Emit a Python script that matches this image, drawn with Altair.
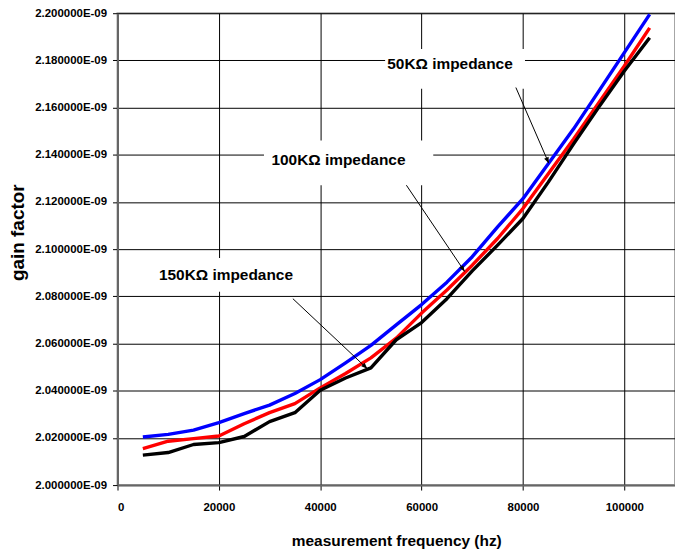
import math
import altair as alt
import pandas as pd

# ---------------- data ----------------
freq_hz = [5000, 10000, 15000, 20000, 25000, 30000, 35000, 40000, 45000, 50000,
           55000, 60000, 65000, 70000, 75000, 80000, 85000, 90000, 95000, 100000, 105000]

# gain factor, in units of 1E-09
gain_50k = [2.0204, 2.0215, 2.0233, 2.0265, 2.0303, 2.0339, 2.0388, 2.0447, 2.0518, 2.0592,
            2.0679, 2.0765, 2.0860, 2.0968, 2.1094, 2.1214, 2.1362, 2.1510, 2.1671, 2.1833, 2.1995]
gain_100k = [2.0155, 2.0186, 2.0197, 2.0208, 2.0260, 2.0307, 2.0345, 2.0412, 2.0473, 2.0539,
             2.0623, 2.0729, 2.0827, 2.0932, 2.1045, 2.1172, 2.1320, 2.1467, 2.1622, 2.1776, 2.1938]
gain_150k = [2.0127, 2.0138, 2.0172, 2.0180, 2.0206, 2.0269, 2.0307, 2.0402, 2.0454, 2.0497,
             2.0616, 2.0689, 2.0790, 2.0908, 2.1017, 2.1130, 2.1284, 2.1446, 2.1603, 2.1755, 2.1896]

series_names = ["50KΩ impedance", "100KΩ impedance", "150KΩ impedance"]
series_colors = ["#0000FF", "#FF0000", "#000000"]

x_ticks = [0, 20000, 40000, 60000, 80000, 100000]
y_ticks_e9 = [2.00, 2.02, 2.04, 2.06, 2.08, 2.10, 2.12, 2.14, 2.16, 2.18, 2.20]

# annotations (data coordinates; y in units of 1E-09)
ann_text_x = [65600, 43600, 21400]
ann_text_y = [2.1786, 2.1376, 2.0891]
box_x1 = [52800, 28900, 6300]
box_x2 = [80400, 62300, 35800]
box_y1 = [2.1848, 2.1461, 2.0963]
box_y2 = [2.1680, 2.1271, 2.0819]
arrow_x1 = [78600, 57000, 34600]
arrow_x2 = [85100, 68500, 49300]
arrow_y1 = [2.1685, 2.1271, 2.0790]
arrow_y2 = [2.1364, 2.0905, 2.0493]

E9 = 1e-9
W, H = 560, 474
X_DOM = [0, 110000]
Y_DOM = [2.0 * E9, 2.2 * E9]

FONT = "Liberation Sans, Arial, sans-serif"

# ---------------- tables ----------------
rows = []
for name, vals in zip(series_names, [gain_50k, gain_100k, gain_150k]):
    for f, v in zip(freq_hz, vals):
        rows.append({"freq": f, "gain": v * E9, "series": name})
df = pd.DataFrame(rows)

px_per_x = W / (X_DOM[1] - X_DOM[0])
px_per_y = H / (Y_DOM[1] - Y_DOM[0])
ann_rows = []
for i, lab in enumerate(series_names):
    dx = (arrow_x2[i] - arrow_x1[i]) * px_per_x
    dy = -(arrow_y2[i] - arrow_y1[i]) * E9 * px_per_y
    ang = math.degrees(math.atan2(dx, -dy)) % 360
    ann_rows.append({
        "label": lab,
        "tx": ann_text_x[i], "ty": ann_text_y[i] * E9,
        "bx1": box_x1[i], "bx2": box_x2[i],
        "by1": box_y1[i] * E9, "by2": box_y2[i] * E9,
        "ax1": arrow_x1[i], "ax2": arrow_x2[i],
        "ay1": arrow_y1[i] * E9, "ay2": arrow_y2[i] * E9,
        "angle": ang,
    })
ann = pd.DataFrame(ann_rows)

# ---------------- scales / axes ----------------
xs = alt.Scale(domain=X_DOM, nice=False, zero=False)
ys = alt.Scale(domain=Y_DOM, nice=False, zero=False)

x_axis = alt.Axis(
    values=x_ticks, format="d", title="measurement frequency (hz)",
    labelPadding=12, titlePadding=20,
    titleFont=FONT, titleFontSize=15.5, titleFontWeight="bold",
)
y_axis = alt.Axis(
    values=[v * E9 for v in y_ticks_e9],
    labelExpr="format(datum.value * 1e9, '.6f') + 'E-09'",
    title="gain factor", labelPadding=6,
    titleFont=FONT, titleFontSize=19, titleFontWeight="bold",
    titleAngle=270, titleAlign="center", titleBaseline="middle",
    titleX=-100, titleY=220,
)


def xq(field):
    return alt.X(f"{field}:Q", scale=xs, axis=x_axis)


def yq(field):
    return alt.Y(f"{field}:Q", scale=ys, axis=y_axis)


boxes = alt.Chart(ann).mark_rect(color="white").encode(
    x=xq("bx1"), x2="bx2", y=yq("by1"), y2="by2"
)

lines = []
for name, color in zip(series_names, series_colors):
    lines.append(
        alt.Chart(df).transform_filter(alt.datum.series == name)
        .mark_line(color=color, strokeWidth=3.4, strokeJoin="round")
        .encode(x=xq("freq"), y=yq("gain"), order="freq:Q")
    )

arrows = alt.Chart(ann).mark_rule(color="black", strokeWidth=1).encode(
    x=xq("ax1"), x2="ax2", y=yq("ay1"), y2="ay2"
)

heads = alt.Chart(ann).mark_point(
    shape="M0,0 L-0.4,1 L0.4,1 Z", filled=True, color="black", size=150, opacity=1
).encode(
    x=xq("ax2"), y=yq("ay2"), angle=alt.Angle("angle:Q", scale=None)
)

texts = alt.Chart(ann).mark_text(
    font=FONT, fontSize=15.5, fontWeight="bold", color="black",
    align="center", baseline="middle"
).encode(x=xq("tx"), y=yq("ty"), text="label:N")

chart = alt.layer(boxes, *lines, arrows, heads, texts).properties(
    width=W, height=H,
    autosize=alt.AutoSizeParams(type="none"),
    padding={"left": 110, "top": 4, "right": 0, "bottom": 70},
    background="white",
).configure_view(
    stroke="#a6a6a6", strokeWidth=2
).configure_axis(
    grid=True, gridColor="#000000", gridWidth=1, gridOpacity=1,
    domainColor="#666666", domainWidth=2,
    tickColor="#000000", tickSize=5, tickWidth=1,
    labelFont=FONT, labelFontSize=11.5, labelFontWeight="bold", labelColor="#000000",
    titleColor="#000000",
)

chart.save("out.html", embed_options={"renderer": "svg", "actions": False})
